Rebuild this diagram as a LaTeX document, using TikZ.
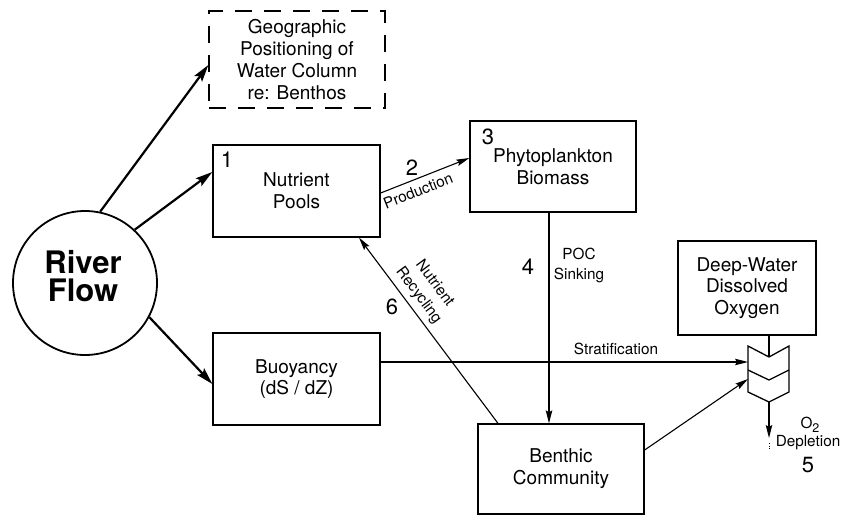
\documentclass[tikz,border=0pt]{standalone}
\usepackage{fontspec}
\setmainfont{TeX Gyre Heros}
\usetikzlibrary{arrows.meta}
\newcommand\bxfont{\fontsize{19}{21.8}\selectfont}
\newcommand\lblfont{\fontsize{15.3}{20}\selectfont}
\newcommand\subfont{\fontsize{12.5}{13}\selectfont}
\newcommand\dgtfont{\fontsize{22}{24}\selectfont}
\newcommand\rvfont{\fontsize{31}{28}\selectfont\bfseries}
\begin{document}
\begin{tikzpicture}[x=1pt,y=-1pt,
  bx/.style={draw,line width=1.3pt,align=center,font=\bxfont,inner sep=0pt},
  dashbx/.style={bx,dash pattern=on 17pt off 12pt},
  lbl/.style={font=\lblfont,inner sep=0pt},
  dgt/.style={font=\dgtfont,inner sep=0pt},
  bigarrow/.style={line width=2.2pt,-{Stealth[length=17pt,width=9.5pt,inset=3pt]}},
  link/.style={line width=1.1pt,-{Stealth[length=13pt,width=6.5pt,inset=2pt]}},
  plain/.style={line width=1.1pt}]
\useasboundingbox (0,0) rectangle (842,515);

% driver
\node[draw,circle,line width=1.8pt,minimum size=144pt,inner sep=0pt] (river) at (85,283) {};
\node[font=\rvfont,align=center,inner sep=0pt] (rivertxt) at (83,276) {River\\Flow};

% compartments
\node[dashbx,minimum width=176pt,minimum height=97pt] (geo) at (297,59.5)
  {Geographic\\Positioning of\\Water Column\\re: Benthos};
\node[bx,minimum width=167pt,minimum height=92pt] (nutr) at (296.5,191) {Nutrient\\Pools};
\node[bx,minimum width=166pt,minimum height=91pt] (phyto) at (553,166.5) {Phytoplankton\\Biomass};
\node[bx,minimum width=167pt,minimum height=92pt] (buoy) at (296.5,379) {Buoyancy\\(dS / dZ)};
\node[bx,minimum width=166pt,minimum height=90pt] (benth) at (561,469) {Benthic\\Community};
\node[bx,minimum width=138pt,minimum height=94pt] (deep) at (747,288) {Deep-Water\\Dissolved\\Oxygen};

% process numbers
\node[dgt] (n1) at (227,160) {1};
\node[dgt] (n2) at (412,168) {2};
\node[dgt] (n3) at (488,137) {3};
\node[dgt] (n4) at (528,267) {4};
\node[dgt] (n5) at (808,465) {5};
\node[dgt] (n6) at (392,307) {6};

% chevron valve
\coordinate (cTL) at (748,346);
\coordinate (cTN) at (769,357);
\coordinate (cTR) at (789,346);
\coordinate (cML) at (748,370);
\coordinate (cMN) at (769,380);
\coordinate (cMR) at (789,370);
\coordinate (cBL) at (748,392);
\coordinate (cBP) at (769,402);
\coordinate (cBR) at (789,392);
\coordinate (chStrat) at (748,362);
\coordinate (chBen) at (748,379);
\coordinate (o2end) at (769,438);
\coordinate (tickA) at (769,443);
\coordinate (tickB) at (769,450);
\draw[line width=1.3pt,line join=miter] (cTL) -- (cTN) -- (cTR) -- (cBR) -- (cBP) -- (cBL) -- cycle;
\draw[line width=1.3pt] (cML) -- (cMN) -- (cMR);

% connectors
\draw[bigarrow] (river.78) -- ([yshift=-5.5pt]geo.west);
\draw[bigarrow] (river.47) -- ([yshift=19pt]nutr.west);
\draw[bigarrow] (river.-28) -- ([yshift=-5pt]buoy.west);
\draw[link] ([yshift=-2pt]nutr.east) -- ([yshift=8.5pt]phyto.west);
\draw[link] ([xshift=-4pt]phyto.south) -- ([xshift=-12pt]benth.north);
\draw[link] ([xshift=-63pt]benth.north) -- ([xshift=62.5pt]nutr.south);
\draw[link] ([yshift=17pt]buoy.east) -- (chStrat);
\draw[link] ([yshift=19pt]benth.east) -- (chBen);
\draw[plain] ([xshift=22pt]deep.south) -- (cTN);
\draw[link] (cBP) -- (o2end);
\draw[line width=1pt,dash pattern=on 1pt off 1.5pt] (tickA) -- (tickB);

% connector labels
\node[lbl,rotate=21.6] (prod) at (418,191) {Production};
\node[lbl,align=center] (poc) at (579,265) {POC\\Sinking};
\node[lbl,align=center,rotate=-53.4] (recyc) at (426.5,289.5) {Nutrient\\Recycling};
\node[lbl] (strat) at (616,349) {Stratification};
\node[lbl] (o2) at (810,425) {O\raisebox{-4.5pt}{\subfont 2}};
\node[lbl] (depl) at (808,443) {Depletion};
\end{tikzpicture}
\end{document}
